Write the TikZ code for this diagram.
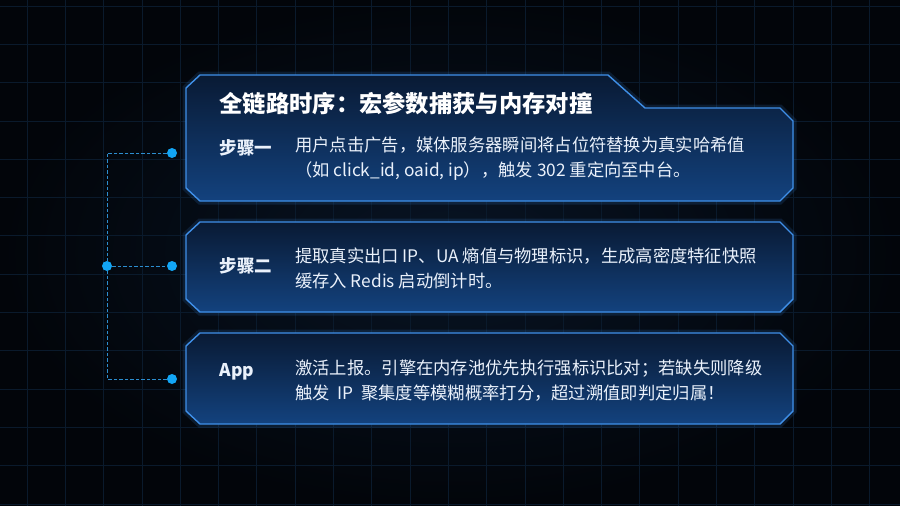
\documentclass[tikz,border=0pt]{standalone}
\usepackage{fontspec}
\setmainfont{Noto Sans CJK SC}
\usepackage{tikz}
\usetikzlibrary{calc,positioning}
\definecolor{bgdark}{HTML}{02050A}
\definecolor{bgmid}{HTML}{081424}
\definecolor{gridc}{HTML}{0A1A2C}
\definecolor{paneltop}{HTML}{091A34}
\definecolor{panelbot}{HTML}{13427E}
\definecolor{panelline}{HTML}{3F8FE8}
\definecolor{dotc}{HTML}{12A5F5}
\definecolor{dashc}{HTML}{2C8ED0}
\definecolor{txt}{HTML}{EAF1FB}
\tikzstyle{panel} = [draw=panelline, line width=1.4pt, top color=paneltop, bottom color=panelbot,
    preaction={draw=panelline, line width=7pt, opacity=0.15}]
\tikzstyle{dot} = [circle, fill=dotc, inner sep=0pt, minimum size=10pt]
\tikzstyle{link} = [draw=dashc, line width=0.9pt, dash pattern=on 3.5pt off 2pt]
\tikzstyle{title} = [anchor=west, text=white, font=\fontsize{23.3}{28}\selectfont\bfseries]
\tikzstyle{steplabel} = [anchor=west, text=txt, font=\fontsize{17.5}{22}\selectfont\bfseries]
\tikzstyle{body} = [anchor=west, text=txt, align=left, inner sep=0pt,
    font=\fontsize{17.3}{25}\selectfont]

\begin{document}
\begin{tikzpicture}[x=1pt, y=-1pt]
    \useasboundingbox (0,0) rectangle (900,506);
    \shade[inner color=bgmid, outer color=bgdark] (0,0) rectangle (900,506);
    \foreach \gx in {27,65.3,...,900} \draw[gridc, line width=0.7pt] (\gx,0) -- (\gx,506);
    \foreach \gy in {6,44.3,...,506} \draw[gridc, line width=0.7pt] (0,\gy) -- (900,\gy);

    \path[panel] (186,88) -- (200,75) -- (608,75) -- (645,108) -- (780,108) -- (793,121)
        -- (793,188) -- (780,201) -- (200,201) -- (186,188) -- cycle;
    \path[panel] (186,235) -- (200,222) -- (780,222) -- (793,235)
        -- (793,299) -- (780,312) -- (200,312) -- (186,299) -- cycle;
    \path[panel] (186,346) -- (200,333) -- (780,333) -- (793,346)
        -- (793,411) -- (780,424) -- (200,424) -- (186,411) -- cycle;

    \node[title, name=head] at (216,104) {全链路时序：宏参数捕获与内存对撞};

    \node[steplabel, name=lab1] at (216,148) {步骤一};
    \node[body, name=txt1] at (295,159) {用户点击广告，媒体服务器瞬间将占位符替换为真实哈希值\\
        （如 click\_id, oaid, ip），触发 302 重定向至中台。};

    \node[steplabel, name=lab2] at (216,266) {步骤二};
    \node[body, name=txt2] at (295,268) {提取真实出口 IP、UA 熵值与物理标识，生成高密度特征快照\\
        缓存入 Redis 启动倒计时。};

    \node[steplabel, name=lab3] at (216,372) {App};
    \node[body, name=txt3] at (295,381) {激活上报。引擎在内存池优先执行强标识比对；若缺失则降级\\
        触发\ \ IP\ \ 聚集度等模糊概率打分，超过溯值即判定归属！};

    \node[dot, name=dot1] at (172,153) {};
    \node[dot, name=dot2] at (172,266) {};
    \node[dot, name=dot3] at (172,379) {};
    \node[dot, name=hub] at (107,266) {};

    \draw[link] (dot1) -| (hub);
    \draw[link] (dot3) -| (hub);
    \draw[link] (hub) -- (dot2);
\end{tikzpicture}
\end{document}
